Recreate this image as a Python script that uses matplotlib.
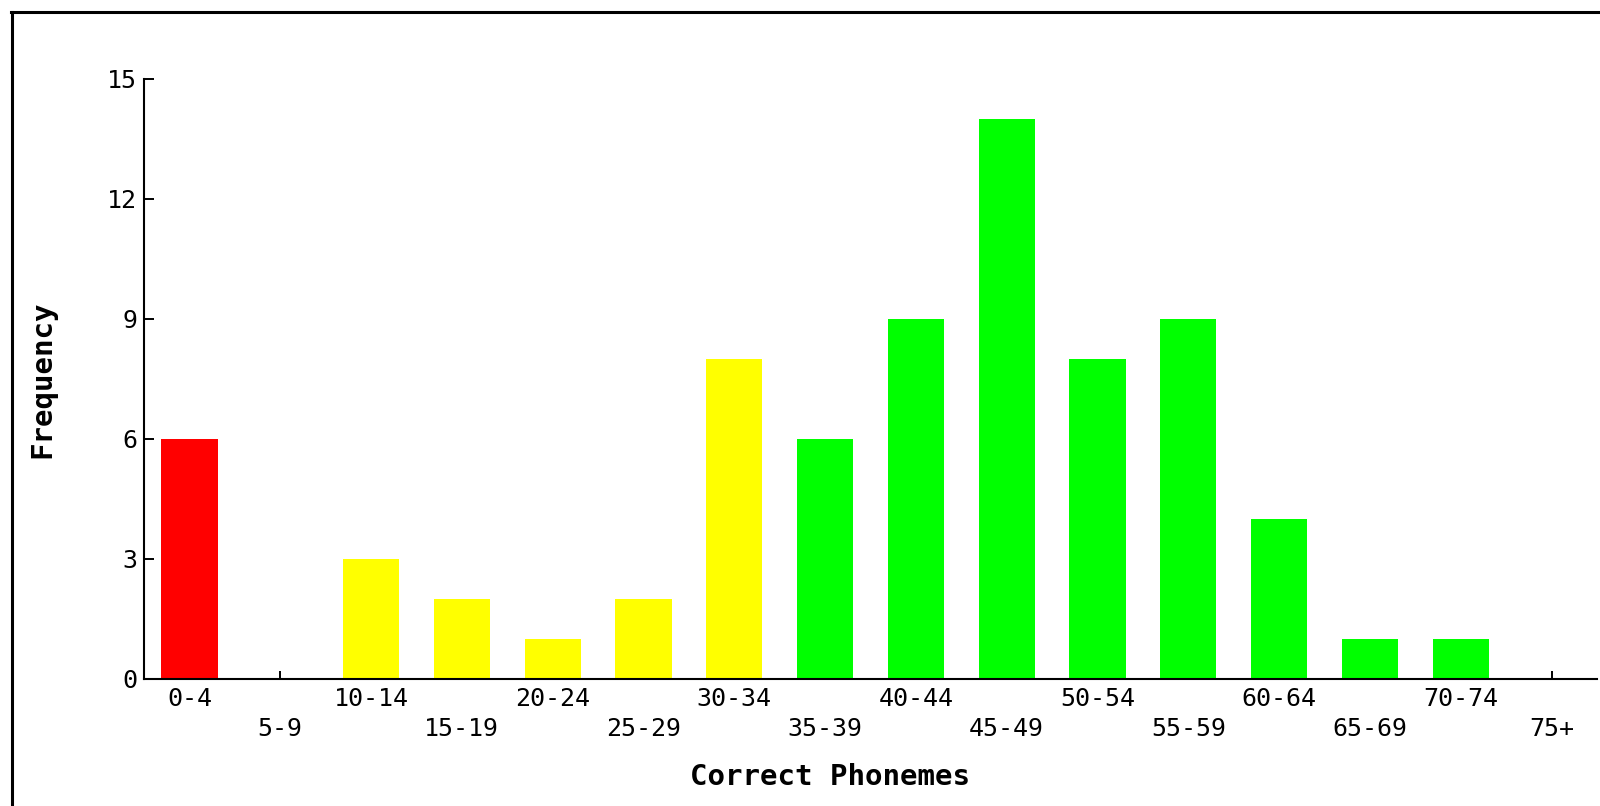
import matplotlib
matplotlib.use('Agg')
from matplotlib import pyplot as plt
from matplotlib.lines import Line2D

# histogram data
categories = ['0-4', '5-9', '10-14', '15-19', '20-24', '25-29', '30-34', '35-39',
              '40-44', '45-49', '50-54', '55-59', '60-64', '65-69', '70-74', '75+']
frequency = [6, 0, 3, 2, 1, 2, 8, 6, 9, 14, 8, 9, 4, 1, 1, 0]
bar_colors = ['#ff0000'] + ['#ffff00'] * 6 + ['#00ff00'] * 9
y_ticks = [0, 3, 6, 9, 12, 15]

W, H = 1600, 806
fig = plt.figure(figsize=(16, 8.06), dpi=100)
ax = fig.add_axes([144 / W, (H - 679) / H, (1597 - 144) / W, (679 - 79) / H])

x = list(range(len(categories)))
ax.bar(x, frequency, width=0.62, color=bar_colors, linewidth=0, zorder=2)

ax.set_xlim(-0.5, 15.5)
ax.set_ylim(0, 15)
ax.set_yticks(y_ticks)

# alternate the labels on two rows
labels = []
for i in range(len(categories)):
    if i % 2 == 0:
        labels.append(categories[i])
    else:
        labels.append('\n' + categories[i])
ax.set_xticks(x)
ax.set_xticklabels(labels, family='DejaVu Sans Mono', fontsize=18, linespacing=1.3)
for t in ax.get_yticklabels():
    t.set_family('DejaVu Sans Mono')
    t.set_fontsize(18)

ax.tick_params(axis='x', direction='in', length=6, width=1.4, pad=6)
ax.tick_params(axis='y', direction='in', length=7, width=1.4, pad=5)
for s in ['top', 'right']:
    ax.spines[s].set_visible(False)
for s in ['left', 'bottom']:
    ax.spines[s].set_linewidth(1.5)

fig.text(830 / W, 1 - 777 / H, 'Correct Phonemes', family='DejaVu Sans Mono',
         weight='bold', fontsize=21, ha='center', va='center')
fig.text(42 / W, 1 - 379 / H, 'Frequency', family='DejaVu Sans Mono',
         weight='bold', fontsize=21, ha='center', va='center', rotation=90)

# outer frame (left and top edges only visible)
fig.add_artist(Line2D([11.5 / W, 11.5 / W], [0, 1 - 12 / H], transform=fig.transFigure,
                      color='black', linewidth=2.2))
fig.add_artist(Line2D([11 / W, 1], [1 - 12 / H, 1 - 12 / H], transform=fig.transFigure,
                      color='black', linewidth=2.2))

fig.savefig('out.png', dpi=100)
